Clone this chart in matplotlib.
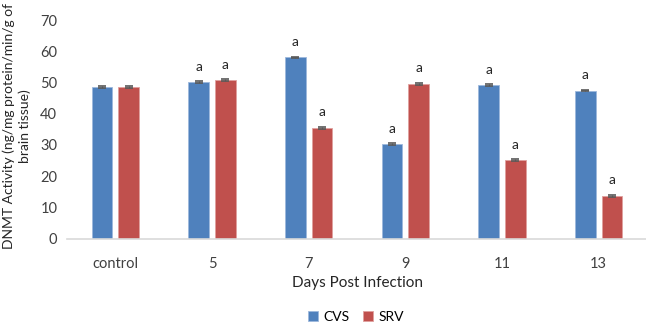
import numpy as np
import matplotlib.pyplot as plt

categories = ["control", "5", "7", "9", "11", "13"]
cvs = [48.5, 50.0, 58.0, 30.3, 49.2, 47.4]
srv = [48.5, 50.8, 35.5, 49.6, 25.1, 13.7]
cvs_err = [0.3, 0.3, 0.3, 0.3, 0.3, 0.3]
srv_err = [0.3, 0.3, 0.3, 0.3, 0.3, 0.3]
cvs_marks = ["", "a", "a", "a", "a", "a"]
srv_marks = ["", "a", "a", "a", "a", "a"]

plt.rcParams["font.family"] = ["Lato", "DejaVu Sans"]

W, H = 646, 325
fig = plt.figure(figsize=(W / 100, H / 100), dpi=100)
ax = fig.add_axes([67 / W, 86.5 / H, 580 / W, 218.5 / H])

x = np.arange(len(categories))
w = 0.215
gap = 0.06
blue = "#4F81BD"
red = "#C0504D"
ekw = dict(ecolor="#595959", capsize=3, elinewidth=0.8, capthick=1.2)

b1 = ax.bar(x - (w + gap) / 2, cvs, w, color=blue, edgecolor="#9DB8DC", linewidth=0.6,
            yerr=cvs_err, error_kw=ekw, label="CVS")
b2 = ax.bar(x + (w + gap) / 2, srv, w, color=red, edgecolor="#E0A09E", linewidth=0.6,
            yerr=srv_err, error_kw=ekw, label="SRV")

for i in range(len(categories)):
    if cvs_marks[i]:
        ax.text(x[i] - (w + gap) / 2, cvs[i] + 3, cvs_marks[i], ha="center", va="bottom",
                fontsize=10, color="#262626")
    if srv_marks[i]:
        ax.text(x[i] + (w + gap) / 2, srv[i] + 3, srv_marks[i], ha="center", va="bottom",
                fontsize=10, color="#262626")

ax.set_xlim(-0.5, len(categories) - 0.5)
ax.set_ylim(0, 70)
ax.set_yticks(range(0, 71, 10))
ax.set_xticks(x)
ax.set_xticklabels(categories)
ax.tick_params(axis="both", length=0, labelsize=10.5, colors="#404040")
ax.tick_params(axis="x", pad=13)
ax.tick_params(axis="y", pad=7)
for s in ["top", "right", "left"]:
    ax.spines[s].set_visible(False)
ax.spines["bottom"].set_color("#D9D9D9")
ax.spines["bottom"].set_linewidth(1.2)

ax.set_xlabel("Days Post Infection", fontsize=11, color="#262626")
ax.xaxis.set_label_coords(0.5, -(283 - 238.5) / 218.5)
ax.xaxis.label.set_va("center")
ax.set_ylabel("DNMT Activity (ng/mg protein/min/g of\nbrain tissue)", fontsize=10,
              color="#262626", linespacing=1.35)
ax.yaxis.set_label_coords(-(67 - 17) / 580, (238.5 - 126) / 218.5)
ax.yaxis.label.set_va("center")

fig.legend(handles=[b1, b2], labels=["CVS", "SRV"], loc="center",
           bbox_to_anchor=(356 / W, (H - 317) / H),
           ncol=2, frameon=False, fontsize=10, handlelength=0.7, handleheight=0.7,
           handletextpad=0.4, columnspacing=1.0)

fig.savefig("out.png", dpi=100)
